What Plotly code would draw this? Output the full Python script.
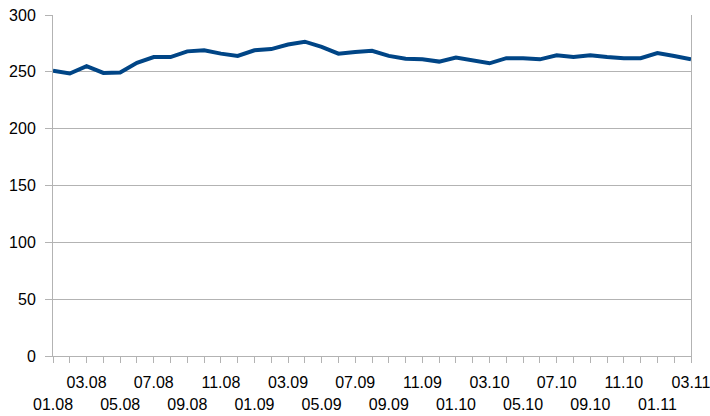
import plotly.graph_objects as go

# Monthly values, January 2008 to March 2011
months = [
    "01.08", "02.08", "03.08", "04.08", "05.08", "06.08", "07.08", "08.08", "09.08", "10.08", "11.08", "12.08",
    "01.09", "02.09", "03.09", "04.09", "05.09", "06.09", "07.09", "08.09", "09.09", "10.09", "11.09", "12.09",
    "01.10", "02.10", "03.10", "04.10", "05.10", "06.10", "07.10", "08.10", "09.10", "10.10", "11.10", "12.10",
    "01.11", "02.11", "03.11",
]
values = [
    251, 248.5, 255, 249, 249.5, 258, 263, 263, 268, 269, 266, 264,
    269, 270, 274, 276.5, 272, 266, 267.5, 268.5, 264, 261.5, 261, 259,
    262.5, 260, 257.5, 262, 262, 261, 264.5, 263, 264.5, 263, 262, 262,
    266.5, 264, 261,
]
y_ticks = [0, 50, 100, 150, 200, 250, 300]

idx = list(range(len(months)))
# labels alternate between two rows: 03, 07, 11 upper; 01, 05, 09 lower
upper = [m if i % 4 == 2 else "" for i, m in enumerate(months)]
lower = [m if i % 4 == 0 else "" for i, m in enumerate(months)]

font = dict(family="Liberation Sans, Arial, sans-serif", size=16, color="#000000")
grey = "#b3b3b3"

fig = go.Figure()
fig.add_trace(go.Scatter(
    x=idx, y=values, mode="lines",
    line=dict(color="#004586", width=4),
    showlegend=False, hoverinfo="skip",
))
# invisible trace carrying the lower row of labels
fig.add_trace(go.Scatter(
    x=idx, y=values, mode="lines", xaxis="x2",
    line=dict(width=0), opacity=0, showlegend=False, hoverinfo="skip",
))

fig.update_layout(
    width=710, height=416,
    margin=dict(l=53, r=19, t=15, b=60),
    paper_bgcolor="white", plot_bgcolor="white",
    font=font,
    xaxis=dict(
        range=[0, len(months) - 1], tickmode="array", tickvals=idx, ticktext=upper,
        showgrid=False, zeroline=False, showline=True, linecolor=grey, linewidth=1,
        ticks="outside", ticklen=6, tickcolor=grey, tickwidth=1,
        ticklabelstandoff=6, tickangle=0, tickfont=font,
        ticklabeloverflow="allow", automargin=False,
    ),
    xaxis2=dict(
        overlaying="x", anchor="y", side="bottom",
        range=[0, len(months) - 1], tickmode="array", tickvals=idx, ticktext=lower,
        showgrid=False, zeroline=False, showline=False,
        ticks="", ticklabelstandoff=37, tickangle=0, tickfont=font,
        ticklabeloverflow="allow", automargin=False,
    ),
    yaxis=dict(
        range=[0, 300], tickmode="array", tickvals=y_ticks,
        showgrid=True, gridcolor=grey, gridwidth=1, zeroline=False,
        showline=True, linecolor=grey, linewidth=1, mirror=True,
        ticks="outside", ticklen=7, tickcolor=grey, tickwidth=1,
        ticklabelstandoff=6, tickfont=font, automargin=False,
    ),
)

fig.write_html("out.html")
